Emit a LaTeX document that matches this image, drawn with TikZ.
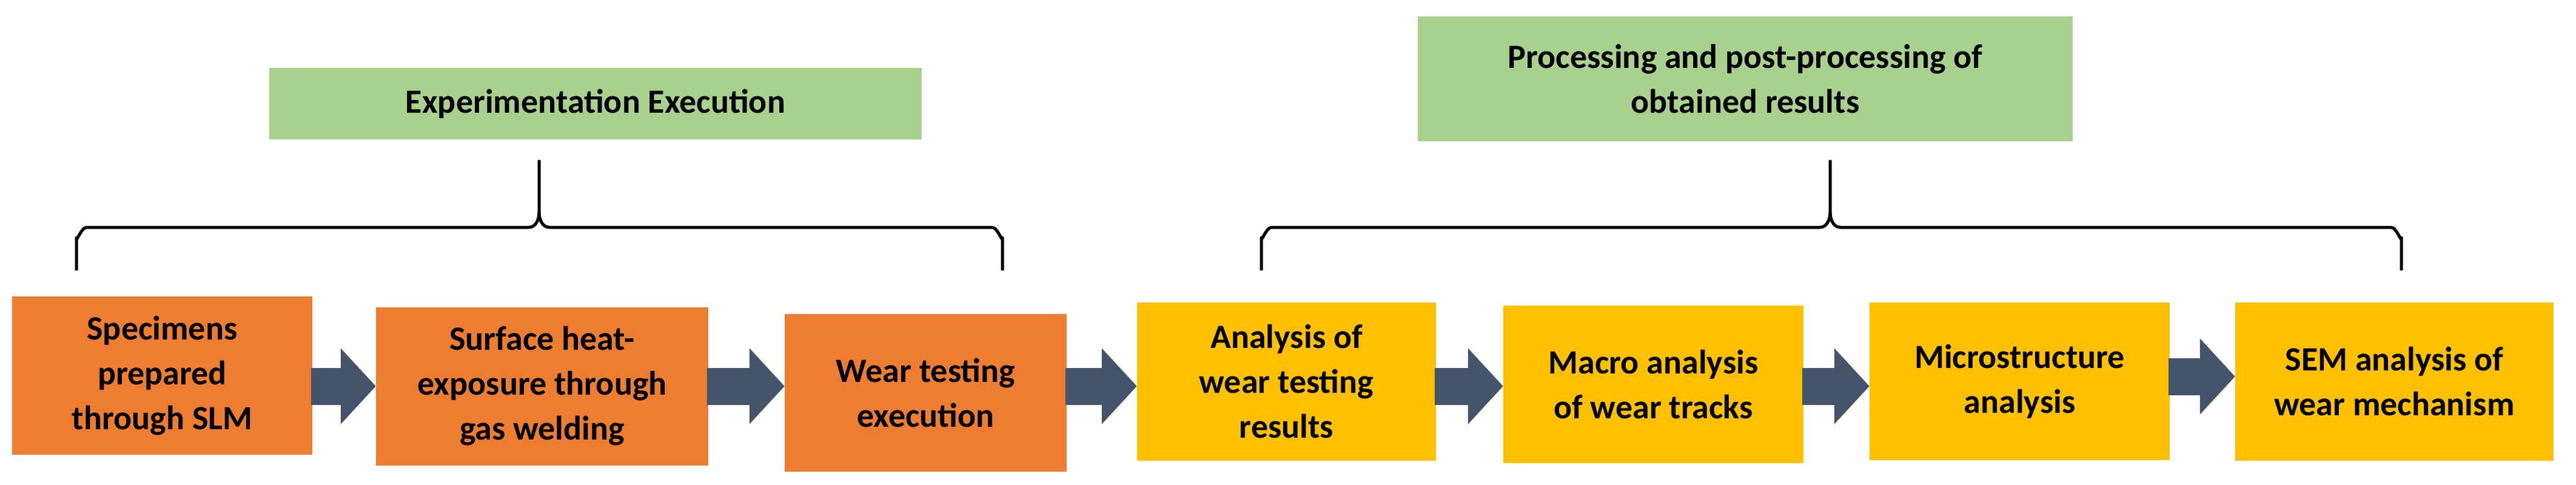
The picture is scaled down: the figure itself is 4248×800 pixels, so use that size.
\documentclass[tikz,border=0pt]{standalone}
\usepackage{fontspec}
\setmainfont{Carlito}
\usetikzlibrary{arrows.meta}
\definecolor{orng}{HTML}{ED7D31}
\definecolor{gold}{HTML}{FFC000}
\definecolor{grn}{HTML}{A9D18E}
\definecolor{arr}{HTML}{44546A}
\begin{document}
\begin{tikzpicture}[x=1pt,y=-1pt,
  txt/.style={font=\fontsize{56}{74}\selectfont\bfseries, align=center, inner sep=0pt},
  box/.style={txt, minimum height=261pt},
  ob/.style={box, fill=orng},
  yb/.style={box, fill=gold},
  hd/.style={txt, fill=grn},
  bigarr/.style={arr, line width=61pt, -{Triangle[width=122pt,length=58pt]}, shorten <=-2pt},
  brace/.style={line width=5pt, line join=round}]
\useasboundingbox (0,0) rectangle (4248,800);
% headers
\node[hd, minimum width=1076pt, minimum height=118pt] (h1) at (982,171) {Experimentation Execution};
\node[hd, minimum width=1080pt, minimum height=205pt] (h2) at (2878,130) {Processing and post-processing of\\obtained results};
% boxes
\node[ob, minimum width=495pt] (b1) at (267.5,619.5) {Specimens\\prepared\\through SLM};
\node[ob, minimum width=548pt] (b2) at (894,637) {Surface heat-\\exposure through\\gas welding};
\node[ob, minimum width=465pt, minimum height=260pt] (b3) at (1526.5,648) {Wear testing\\execution};
\node[yb, minimum width=493pt] (b4) at (2121.5,629.5) {Analysis of\\wear testing\\results};
\node[yb, minimum width=495pt, minimum height=260pt] (b5) at (2726.5,634) {Macro analysis\\of wear tracks};
\node[yb, minimum width=495pt, minimum height=260pt] (b6) at (3330.5,629) {Microstructure\\analysis};
\node[yb, minimum width=525pt] (b7) at (3948.5,629.5) {SEM analysis of\\wear mechanism};
% arrows
\draw[bigarr] (b1.east |- 0,637) -- (b2.west |- 0,637);
\draw[bigarr] (b2.east |- 0,637) -- (b3.west |- 0,637);
\draw[bigarr] (b3.east |- 0,637) -- (b4.west |- 0,637);
\draw[bigarr] (b4.east |- 0,637) -- (b5.west |- 0,637);
\draw[bigarr] (b5.east |- 0,637) -- (b6.west |- 0,637);
\draw[bigarr] (b6.east |- 0,621) -- (b7.west |- 0,621);
% braces
\draw[brace] (126,446) -- (126,392) to[out=-90,in=180] (143,375) -- (872,375) to[out=0,in=-90] (889,350) -- (889,264);
\draw[brace] (889,350) to[out=-90,in=180] (906,375) -- (1636,375) to[out=0,in=-90] (1653,392) -- (1653,446);
\draw[brace] (2080,446) -- (2080,392) to[out=-90,in=180] (2097,375) -- (3001,375) to[out=0,in=-90] (3018,350) -- (3018,264);
\draw[brace] (3018,350) to[out=-90,in=180] (3035,375) -- (3943,375) to[out=0,in=-90] (3960,392) -- (3960,446);
\end{tikzpicture}
\end{document}
